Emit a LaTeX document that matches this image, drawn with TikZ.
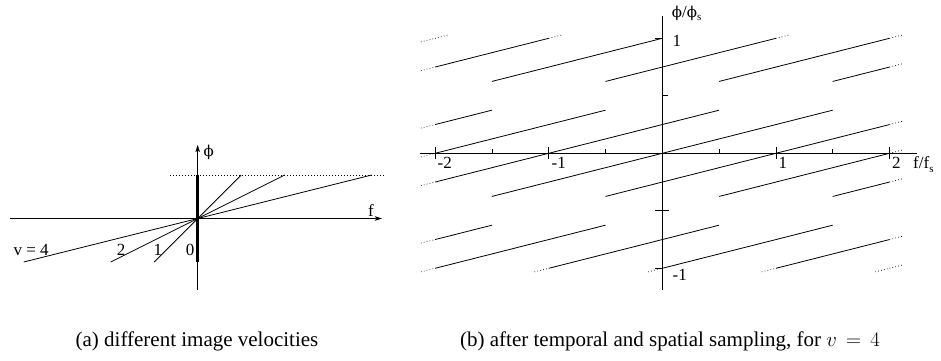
\documentclass[tikz,border=0pt]{standalone}
\usepackage{fontspec}
\setmainfont{Liberation Serif}
\newfontfamily\phifont{DejaVu Serif}
\usetikzlibrary{arrows.meta}
\newcommand\lnseg[3]{\draw[plotline] (#1,{(#1+(#3))/4}) -- (#2,{(#2+(#3))/4});}
\newcommand\dotbefore[2]{\draw[dotline] ({#1-0.125},{(#1-0.125+(#2))/4}) -- (#1,{(#1+(#2))/4});}
\newcommand\dotafter[2]{\draw[dotline] (#1,{(#1+(#2))/4}) -- ({#1+0.125},{(#1+0.125+(#2))/4});}
\newcommand\subs[1]{\raisebox{-0.22em}{\fontsize{11}{11}\selectfont #1}}
\newcommand\phisym{{\phifont\fontsize{15}{18}\selectfont ϕ}}
\begin{document}
\begin{tikzpicture}[x=1pt,y=-1pt,
  every node/.style={inner sep=0pt,font=\fontsize{17}{20}\selectfont},
  axisline/.style={line width=0.8pt},
  axisarrow/.style={line width=0.8pt,-{Stealth[length=7pt,width=4.5pt,inset=1.5pt]}},
  plotline/.style={line width=0.8pt},
  dotline/.style={line width=0.7pt,dash pattern=on 0.7pt off 2.3pt},
  thickbar/.style={line width=2.6pt},
  caption/.style={font=\fontsize{21}{24}\selectfont}]
\useasboundingbox (0,0) rectangle (941,360);
% ---------------- panel (a)
\coordinate (O) at (197.7,218.5);
\coordinate (fa0) at (10,218.5);
\coordinate (fa1) at (382,218.5);
\coordinate (pa0) at (197.7,290);
\coordinate (pa1) at (197.7,145);
\draw[axisarrow] (fa0) -- (fa1);
\draw[axisarrow] (pa0) -- (pa1);
\coordinate (dl0) at (170,175);
\coordinate (dl1) at (385,175);
\draw[dotline] (dl0) -- (dl1);
\coordinate (bar0) at (197.7,175);
\coordinate (bar1) at (197.7,262);
\draw[thickbar] (bar0) -- (bar1);
\foreach \v in {1,2,4}{
  \coordinate (u\v) at ({197.7+43.5*\v},175);
  \coordinate (l\v) at ({197.7-43.5*\v},262);
  \draw[plotline] (l\v) -- (O) -- (u\v);
}
\node[anchor=base west] (lv4) at (13.3,255) {v = 4};
\node[anchor=base west] (lv2) at (116.7,255) {2};
\node[anchor=base west] (lv1) at (153.3,255) {1};
\node[anchor=base west] (lv0) at (185.7,255) {0};
\node[anchor=base west] (lf) at (368,216) {f};
\node[anchor=base west] (lphi) at (203.5,156) {\phisym};
% ---------------- panel (b)
\begin{scope}[shift={(662.3,153.3)},x=113.6pt,y=115pt]
  \draw[axisline] (-2.13,0) -- (2.24,0);
  \draw[axisline] (0,1.19) -- (0,-1.19);
  \foreach \f in {-2,-1,1,2}{\draw[axisline] (\f,0) ++(0pt,6pt) -- ++(0pt,-12pt);}
  \foreach \f in {-1.5,-0.5,0.5,1.5}{\draw[axisline] (\f,0) -- ++(0pt,4pt);}
  \draw[axisline] (0,1) -- ++(-7pt,0pt);
  \draw[axisline] (0,-1) -- ++(-7pt,0pt);
  \draw[axisline] (0,0.5) -- ++(6pt,0pt);
  \draw[axisline] (0,-0.5) ++(-7pt,0pt) -- ++(14pt,0pt);
  % replicas: phi = (f+k)/4
  \dotbefore{2}{-6}\dotafter{2}{-6}
  \lnseg{1}{2}{-5}\dotbefore{1}{-5}\dotafter{2}{-5}
  \lnseg{0}{1.5}{-4}\dotbefore{0}{-4}
  \lnseg{-1}{0.5}{-3}\lnseg{1.5}{2}{-3}\dotbefore{-1}{-3}\dotafter{2}{-3}
  \lnseg{-2}{-0.5}{-2}\lnseg{0.5}{2}{-2}\dotbefore{-2}{-2}\dotafter{2}{-2}
  \lnseg{-2}{-1.5}{-1}\lnseg{-0.5}{2}{-1}\dotbefore{-2}{-1}\dotafter{2}{-1}
  \lnseg{-1.5}{1.5}{0}
  \lnseg{-2}{0.5}{1}\lnseg{1.5}{2}{1}\dotbefore{-2}{1}\dotafter{2}{1}
  \lnseg{-2}{-0.5}{2}\lnseg{0.5}{2}{2}\dotbefore{-2}{2}\dotafter{2}{2}
  \lnseg{-2}{-1.5}{3}\lnseg{-0.5}{1}{3}\dotbefore{-2}{3}\dotafter{1}{3}
  \lnseg{-1.5}{0}{4}
  \lnseg{-2}{-1}{5}\dotbefore{-2}{5}\dotafter{-1}{5}
  \dotbefore{-2}{6}\dotafter{-2}{6}
\end{scope}
\node[anchor=base west] (tm2) at (437.5,168.3) {-2};
\node[anchor=base west] (tm1) at (551.5,168.3) {-1};
\node[anchor=base west] (tp1) at (778.5,168.3) {1};
\node[anchor=base west] (tp2) at (892,168.3) {2};
\node[anchor=base west] (lff) at (913,168.3) {f/f\subs{s}};
\node[anchor=base west] (lpp) at (671.7,17) {\phisym/\phisym\subs{s}};
\node[anchor=base west] (pp1) at (672.5,46) {1};
\node[anchor=base west] (pm1) at (672.5,280.7) {-1};
% ---------------- captions
\node[caption,anchor=base] (capa) at (197,346) {(a) different image velocities};
\node[caption,anchor=base] (capb) at (670,346) {(b) after temporal and spatial sampling, for $v\,=\,4$};
\end{tikzpicture}
\end{document}
